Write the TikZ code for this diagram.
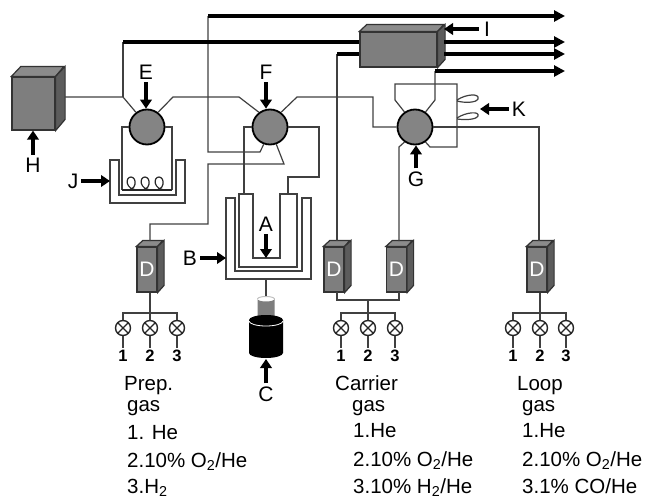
\documentclass[tikz,border=0pt]{standalone}
\usepackage{fontspec}
\setmainfont{Liberation Sans}
\usepackage{tikz}
\usetikzlibrary{
  arrows.meta}

\definecolor{pipegray}{HTML}{404040}
\definecolor{bodygray}{HTML}{7E7E7E}
\definecolor{sidegray}{HTML}{5C5C5C}

\tikzset{
  pipe/.style={draw=pipegray,line width=1.2pt},
  wall/.style={draw=black!75,line width=1.3pt,fill=white},
  outlet/.style={line width=3.3pt,-{Triangle[length=11pt,width=11pt]}},
  feed/.style={line width=3.3pt},
  callout/.style={line width=3.6pt,-{Triangle[length=9pt,width=11.5pt]}},
  letter/.style={font=\fontsize{21}{21}\selectfont,inner sep=3pt},
  listing/.style={font=\fontsize{20.5}{20.5}\selectfont,inner sep=0pt,anchor=base west},
  digit/.style={font=\fontsize{16.5}{16.5}\selectfont\bfseries,inner sep=2pt},
  rotary/.style={circle,draw=black,line width=1.8pt,fill=bodygray!95!white,minimum size=35pt,inner sep=0pt},
  shutoff/.style={circle,draw=black!85,line width=1.4pt,fill=white,minimum size=15pt,inner sep=0pt,
    path picture={
      \draw[line width=1.4pt] (path picture bounding box.north west) -- (path picture bounding box.south east);
      \draw[line width=1.4pt] (path picture bounding box.south west) -- (path picture bounding box.north east);
    }},
  front/.style={rectangle,draw=black!80,line width=1.2pt,fill=bodygray,inner sep=0pt,
    text=white,font=\fontsize{21}{21}\selectfont}
}

% box: name, centre x, centre y, width, height, depth x, depth y, text
\newcommand{\crate}[8]{
  \node[front,minimum width=#4pt,minimum height=#5pt] (#1) at (#2,#3) {#8};
  \draw[draw=black!80,line width=1.2pt,fill=bodygray!90] (#1.north west) -- ++(#6,-#7) -- ++(#4,0) -- (#1.north east) -- cycle;
  \draw[draw=black!80,line width=1.2pt,fill=sidegray] (#1.north east) -- ++(#6,-#7) -- ++(0,#5) -- (#1.south east) -- cycle;
}

\begin{document}
\begin{tikzpicture}[x=1pt,y=-1pt]
\useasboundingbox (0,0) rectangle (649,498);

% valves
\node[rotary] (valveE) at (147,127) {};
\node[rotary] (valveF) at (270,127) {};
\node[rotary] (valveG) at (415,127) {};

% boxes
\crate{heater}{33.5}{103.5}{43}{53}{9.5}{10}{}
\crate{analyzer}{398.5}{49.5}{77}{35}{7.5}{7}{}
\crate{ctrlP}{147}{269.5}{20}{45}{6.5}{6}{D}
\crate{ctrlA}{334}{269.5}{20}{45}{6.5}{6}{D}
\crate{ctrlB}{396.5}{269.5}{20}{45}{6.5}{6}{D}
\crate{ctrlL}{537}{269.5}{20}{45}{6.5}{6}{D}

% free ends of the lines
\coordinate (heaterOut) at (65,97);
\coordinate (ventTop) at (208,16);
\coordinate (ventEnd) at (565,16);
\coordinate (ventA) at (123,42);
\coordinate (ventB) at (565,42);
\coordinate (ventC) at (337,54);
\coordinate (ventD) at (565,54);
\coordinate (ventE) at (435,71);
\coordinate (ventF) at (565,71);
\coordinate (ventG) at (444,42);
\coordinate (ventH) at (444,54);
\coordinate (loopL) at (395,84);
\coordinate (loopR) at (457,84);
\coordinate (loopB) at (457,147);

% thin lines
\draw[pipe] (heaterOut) -- (123,97) -- (valveE.127);
\draw[pipe] (ventA) -- (123,97);
\draw[pipe] (valveE.53) -- (173,97) -- (239,97) -- (valveF.127);
\draw[pipe] (valveF.53) -- (297,97) -- (373,97) -- (373,127) -- (valveG.west);
\draw[pipe] (ventTop) -- (208,152) -- (260,152) -- (valveF.250);
\draw[pipe] (valveF.290) -- (284,164) -- (208,164) -- (208,224) -- (150,224) -- (150,241);
\draw[pipe] (valveF.west) -- (244,127) -- (244,194);
\draw[pipe] (valveF.east) -- (319,127) -- (319,177) -- (288,177) -- (288,194);
\draw[pipe] (valveE.west) -- (122,127) -- (122,190);
\draw[pipe] (valveE.east) -- (172,127) -- (172,190);
\draw[pipe] (ventC) -- (337,241);
\draw[pipe] (valveG.235) -- (399,147) -- (399,241);
\draw[pipe] (valveG.east) -- (539,127) -- (539,241);
\draw[pipe] (valveG.125) -- (395,100) -- (loopL) -- (loopR) -- (loopB) -- (430,147) -- (valveG.305);
\draw[pipe] (valveG.55) -- (435,100) -- (ventE);

% sample loops
\draw[pipe,fill=white] (457,100) .. controls (466,94) and (480,93) .. (478,99) .. controls (476,103) and (464,103) .. (457,101);
\draw[pipe,fill=white] (457,118) .. controls (466,112) and (480,111) .. (478,116) .. controls (476,120) and (464,120) .. (457,119);

% thick lines
\draw[outlet] (ventTop) -- (ventEnd);
\draw[feed] (ventA) -- (analyzer.west |- ventA);
\draw[feed] (ventC) -- (analyzer.west |- ventC);
\draw[outlet] (ventG) -- (ventB);
\draw[outlet] (ventH) -- (ventD);
\draw[outlet] (ventE) -- (ventF);

% trap J
\draw[wall] (110,160) -- (110,203) -- (185,203) -- (185,160) -- (176,160) -- (176,195) -- (119,195) -- (119,160) -- cycle;
\draw[pipe,draw=black!85] (122,190) -- (172,190);
\foreach \x in {131,145,159}{
  \draw[pipe,draw=black!85] (\x-7,190) .. controls (\x+7,192) and (\x+6,177) .. (\x,177) .. controls (\x-6,177) and (\x-6,190) .. (\x+7,190);
}

% furnace B and reactor
\draw[wall] (226,198) -- (226,279) -- (311,279) -- (311,198) -- (302,198) -- (302,271) -- (235,271) -- (235,198) -- cycle;
\draw[wall] (239,194) -- (239,267) -- (297,267) -- (297,194) -- (280,194) -- (280,258) -- (253,258) -- (253,194) -- cycle;

% detector C
\coordinate (furnaceOut) at (266,279);
\coordinate (lampTop) at (266,297);
\draw[pipe] (furnaceOut) -- (lampTop);
\fill[bodygray] (257.5,299) -- (257.5,320) -- (274.5,320) -- (274.5,299) arc[start angle=0,end angle=180,x radius=8.5,y radius=2.5];
\draw[gray!50,line width=1pt] (257.5,299) arc[start angle=180,end angle=360,x radius=8.5,y radius=2.5];
\fill[black] (249,320) -- (249,353) arc[start angle=180,end angle=360,x radius=17,y radius=-5] -- (283,320) arc[start angle=0,end angle=180,x radius=17,y radius=-5] -- cycle;
\draw[white,line width=.8pt] (249,321) arc[start angle=180,end angle=360,x radius=17,y radius=-5];

% gas lines with their three shut-off valves
\foreach \name/\xa/\xb/\xc/\xm in {P/123/150/177/150,A/341/368/395/368,L/513/540/566/540}{
  \node[shutoff] (valve\name1) at (\xa,328) {};
  \node[shutoff] (valve\name2) at (\xb,328) {};
  \node[shutoff] (valve\name3) at (\xc,328) {};
  \coordinate (bus\name) at (\xm,313);
  \draw[pipe] (valve\name1) |- (bus\name) -| (valve\name3);
  \draw[pipe] (bus\name) -- (valve\name2);
  \foreach \n/\x in {1/\xa,2/\xb,3/\xc}{
    \node[digit] (num\name\n) at (\x,356) {\n};
    \draw[pipe] (valve\name\n) -- (num\name\n);
  }
}
\draw[pipe] (ctrlP.south -| busP) -- (busP);
\draw[pipe] (ctrlL.south -| busL) -- (busL);
\coordinate (mergeA) at (368,300);
\draw[pipe] (337,292) |- (mergeA) -| (399,292);
\draw[pipe] (mergeA) -- (busA);

% letters
\node[letter] (labelE) at (146,72) {E};
\node[letter] (labelF) at (266,72) {F};
\node[letter] (labelG) at (416,179) {G};
\node[letter] (labelH) at (33,165) {H};
\node[letter] (labelI) at (487,29) {I};
\node[letter] (labelJ) at (73,181) {J};
\node[letter] (labelK) at (519,109) {K};
\node[letter] (labelA) at (266,224) {A};
\node[letter] (labelB) at (190,258) {B};
\node[letter] (labelC) at (266,394) {C};

\draw[callout] (labelE) -- (labelE |- valveE.north);
\draw[callout] (labelF) -- (labelF |- valveF.north);
\draw[callout] (labelG) -- (labelG |- valveG.south);
\draw[callout] (labelH) -- (labelH |- heater.south);
\draw[callout] (labelI.west) ++(-2,0) -- (444,29);
\draw[callout] (labelJ) -- (110,181);
\draw[callout] (labelK.west) -- (480,109);
\draw[callout] (labelA) -- (266,258);
\draw[callout] (labelB) -- (226,258);
\draw[callout] (labelC) -- (266,359);

% gas lists
\node[listing] (prep) at (124,390) {Prep.};
\node[listing] (prepGas) at (127,411) {gas};
\node[listing] (prepOne) at (127,439) {1. He};
\node[listing] (prepTwo) at (127,467) {2.10\% O\textsubscript{2}/He};
\node[listing] (prepThree) at (127,493) {3.H\textsubscript{2}};
\node[listing] (carrier) at (335,390) {Carrier};
\node[listing] (carrierGas) at (352,411) {gas};
\node[listing] (carrierOne) at (353,437) {1.He};
\node[listing] (carrierTwo) at (353,466) {2.10\% O\textsubscript{2}/He};
\node[listing] (carrierThree) at (353,493) {3.10\% H\textsubscript{2}/He};
\node[listing] (loop) at (517,390) {Loop};
\node[listing] (loopGas) at (522,411) {gas};
\node[listing] (loopOne) at (522,437) {1.He};
\node[listing] (loopTwo) at (522,466) {2.10\% O\textsubscript{2}/He};
\node[listing] (loopThree) at (522,493) {3.1\% CO/He};
\end{tikzpicture}
\end{document}
